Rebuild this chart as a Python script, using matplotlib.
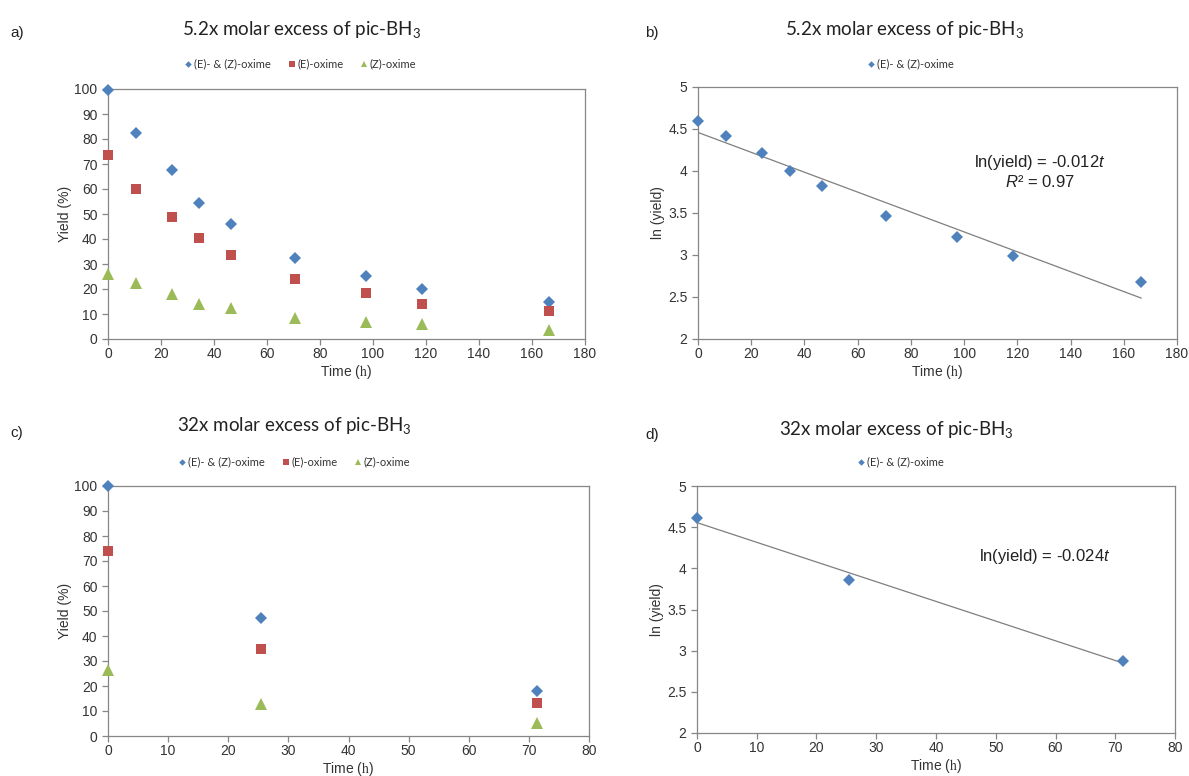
import numpy as np
import matplotlib
matplotlib.use('Agg')
import matplotlib.pyplot as plt

plt.rcParams['font.family'] = ['Liberation Sans', 'DejaVu Sans']
plt.rcParams['mathtext.fontset'] = 'custom'
plt.rcParams['mathtext.rm'] = 'Lato'
plt.rcParams['mathtext.it'] = 'Liberation Sans:italic'

# 5.2x molar excess run
t_52 = [0, 10.5, 24, 34.5, 46.5, 70.5, 97.5, 118.5, 166.5]
total_52 = [99.7, 82.6, 67.5, 54.6, 45.9, 32.3, 25.3, 20.1, 14.9]
e_52 = [73.8, 60.1, 49.0, 40.3, 33.6, 24.0, 18.5, 14.0, 11.2]
z_52 = [25.9, 22.5, 18.1, 14.0, 12.3, 8.5, 6.8, 6.0, 3.7]
ln_52 = [4.60, 4.42, 4.21, 4.00, 3.82, 3.47, 3.21, 2.99, 2.68]

# 32x molar excess run
t_32 = [0, 25.5, 71.3]
total_32 = [100, 47.2, 18.0]
e_32 = [74.0, 34.8, 13.2]
z_32 = [26.6, 12.8, 5.2]
ln_32 = [4.61, 3.86, 2.88]

series_names = ['(E)- & (Z)-oxime', '(E)-oxime', '(Z)-oxime']
eq_52 = 'ln(yield) = -0.012$t$'
r2_52 = '$R$\u00b2 = 0.97'
eq_32 = 'ln(yield) = -0.024$t$'

BLUE, RED, GREEN = '#4F81BD', '#C0504D', '#9BBB59'
GRID = '#868686'
TXT = '#333333'
W, H = 1189, 776

fig = plt.figure(figsize=(W / 100, H / 100), dpi=100)


def px_axes(left, right, top, bottom):
    return fig.add_axes([left / W, 1 - bottom / H, (right - left) / W, (bottom - top) / H])


def style(ax, xmax, xstep, ylim, ystep, ylabel):
    ax.set_xlim(0, xmax)
    ax.set_ylim(*ylim)
    ax.set_xticks(np.arange(0, xmax + 0.01, xstep))
    ax.set_yticks(np.arange(ylim[0], ylim[1] + 0.001, ystep))
    ax.yaxis.set_major_formatter(matplotlib.ticker.FormatStrFormatter('%g'))
    for s in ax.spines.values():
        s.set_color(GRID)
        s.set_linewidth(0.9)
    ax.tick_params(direction='out', length=4, width=0.9, color=GRID,
                   labelcolor=TXT, labelsize=10)
    ax.tick_params(axis='x', pad=2)
    ax.set_xlabel('Time ($\\mathrm{h}$)', fontsize=10, color=TXT, labelpad=1,
                  math_fontfamily='stix')
    ax.set_ylabel(ylabel, fontsize=10, color=TXT, labelpad=2)


def scatter3(ax, t, tot, e, z):
    h1, = ax.plot(t, tot, 'D', color=BLUE, ms=6, mew=0, clip_on=False, zorder=3)
    h2, = ax.plot(t, e, 's', color=RED, ms=7.5, mew=0, clip_on=False, zorder=3)
    h3, = ax.plot(t, z, '^', color=GREEN, ms=8.5, mew=0, clip_on=False, zorder=3)
    return [h1, h2, h3]


def legend(handles, labels, cx, cy):
    fig.legend(handles, labels, loc='center', bbox_to_anchor=(cx / W, 1 - cy / H),
               ncol=len(handles), frameon=False, markerscale=0.55,
               handlelength=0.8, handletextpad=0.1, columnspacing=1.5,
               prop={'family': 'Lato', 'size': 8}, labelcolor=TXT)


def title(text, cx, cy):
    fig.text(cx / W, 1 - cy / H, text, ha='center', va='center',
             family='Lato', fontsize=13.5, color='#222222')


def panel_label(text, x, y):
    fig.text(x / W, 1 - y / H, text, ha='left', va='center', fontsize=11, color='#222222')


def trend(ax, t, y):
    k, b = np.polyfit(t, y, 1)
    xs = np.array([t[0], t[-1]])
    ax.plot(xs, k * xs + b, color='#7f7f7f', lw=0.9, zorder=2)


# a) yields, 5.2x
ax_a = px_axes(108, 585, 89, 339)
style(ax_a, 180, 20, (0, 100), 10, 'Yield (%)')
hs = scatter3(ax_a, t_52, total_52, e_52, z_52)
legend(hs, series_names, 300, 64)
title('5.2x molar excess of pic-BH$_3$', 302, 30)
panel_label('a)', 10, 33)

# b) ln(yield), 5.2x
ax_b = px_axes(698, 1177, 87, 339)
style(ax_b, 180, 20, (2, 5), 0.5, 'ln (yield)')
trend(ax_b, t_52, ln_52)
hb, = ax_b.plot(t_52, ln_52, 'D', color=BLUE, ms=6, mew=0, clip_on=False, zorder=3)
legend([hb], series_names[:1], 910, 64)
title('5.2x molar excess of pic-BH$_3$', 905, 30)
panel_label('b)', 645, 33)
ax_b.text(0.714, 0.70, eq_52, transform=ax_b.transAxes, ha='center', va='center',
          fontsize=12, color='#222222')
ax_b.text(0.714, 0.623, r2_52, transform=ax_b.transAxes, ha='center', va='center',
          fontsize=12, color='#222222')

# c) yields, 32x
ax_c = px_axes(108, 589, 486, 736)
style(ax_c, 80, 10, (0, 100), 10, 'Yield (%)')
hs = scatter3(ax_c, t_32, total_32, e_32, z_32)
legend(hs, series_names, 294, 462)
title('32x molar excess of pic-BH$_3$', 294, 425)
panel_label('c)', 10, 433)

# d) ln(yield), 32x
ax_d = px_axes(697, 1175, 486, 733)
style(ax_d, 80, 10, (2, 5), 0.5, 'ln (yield)')
trend(ax_d, t_32, ln_32)
hd, = ax_d.plot(t_32, ln_32, 'D', color=BLUE, ms=6, mew=0, clip_on=False, zorder=3)
legend([hd], series_names[:1], 900, 462)
title('32x molar excess of pic-BH$_3$', 896, 430)
panel_label('d)', 645, 435)
ax_d.text(0.728, 0.713, eq_32, transform=ax_d.transAxes, ha='center', va='center',
          fontsize=12, color='#222222')

fig.savefig('out.png', dpi=100)
